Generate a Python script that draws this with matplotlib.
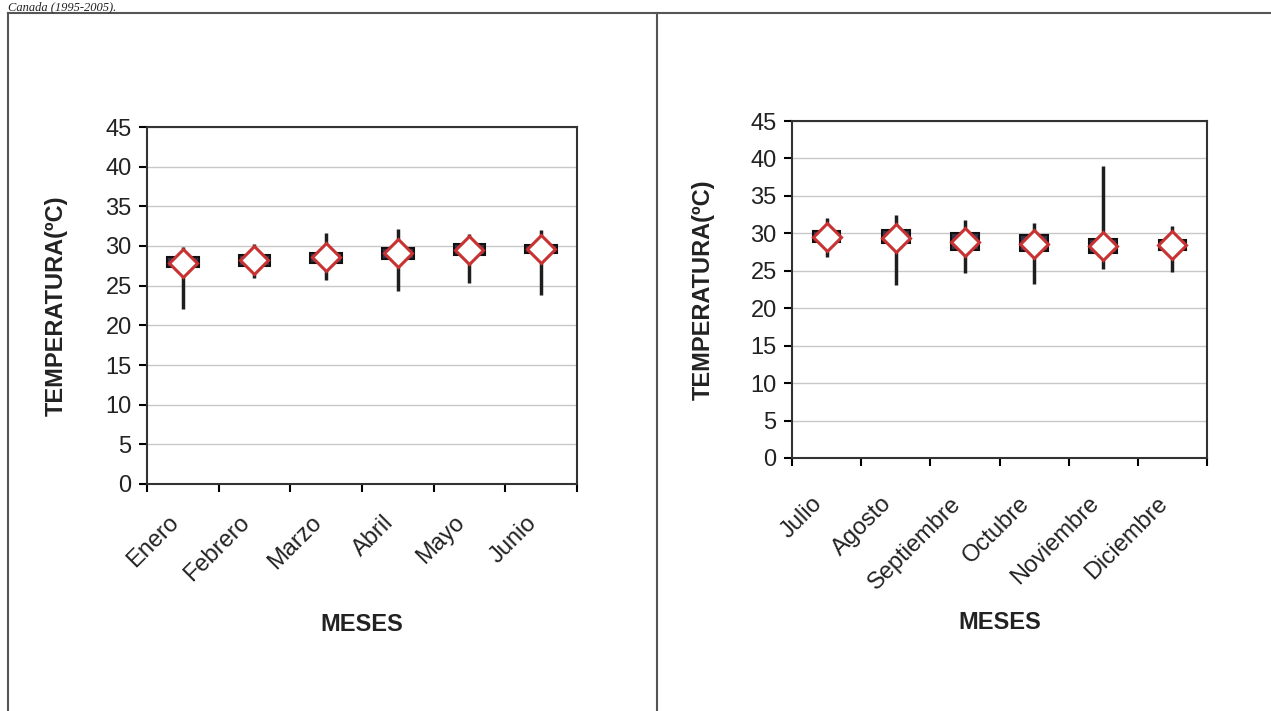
import matplotlib.pyplot as plt
from matplotlib.lines import Line2D
import numpy as np

plt.rcParams['font.family'] = ['Liberation Sans', 'DejaVu Sans']

# primer semestre
meses_1 = ['Enero', 'Febrero', 'Marzo', 'Abril', 'Mayo', 'Junio']
max_1 = [29.9, 30.3, 31.7, 32.1, 31.5, 32.0]
min_1 = [22.1, 26.0, 25.7, 24.3, 25.3, 23.8]
q3_1 = [28.6, 28.9, 29.1, 29.8, 30.3, 30.1]
q1_1 = [27.3, 27.5, 27.9, 28.4, 28.9, 29.1]
media_1 = [27.9, 28.2, 28.6, 29.1, 29.5, 29.6]

# segundo semestre
meses_2 = ['Julio', 'Agosto', 'Septiembre', 'Octubre', 'Noviembre', 'Diciembre']
max_2 = [32.0, 32.5, 31.8, 31.4, 39.0, 31.0]
min_2 = [26.8, 23.1, 24.7, 23.2, 25.3, 24.9]
q3_2 = [30.3, 30.5, 30.0, 29.8, 29.3, 29.1]
q1_2 = [28.9, 28.7, 27.8, 27.6, 27.4, 27.8]
media_2 = [29.5, 29.4, 28.9, 28.6, 28.3, 28.4]

yticks = list(range(0, 50, 5))

W, H = 1271, 711


def box_chart(ax, meses, vmax, vmin, q3, q1, media, box_w, label_pad):
    x = np.arange(len(meses))
    ax.set_xlim(-0.5, len(meses) - 0.5)
    ax.set_ylim(0, 45)
    ax.set_yticks(yticks)
    ax.yaxis.grid(True, color='#c8c8c8', lw=1)
    ax.set_axisbelow(True)

    ax.vlines(x, vmin, vmax, color='#1e1e1e', lw=2.5, zorder=2)
    h = np.array(q3) - np.array(q1)
    ax.bar(x, h, bottom=q1, width=box_w, color='#33334f',
           edgecolor='#111111', lw=1.5, zorder=3)
    ax.hlines(media, x - box_w * 0.38, x + box_w * 0.38, color='white', lw=1.2, zorder=4)
    ax.plot(x, media, 'D', ms=14, mfc='white', mec='#c83232', mew=2.2,
            ls='none', zorder=5)

    ax.set_xticks(np.arange(-0.5, len(meses)), minor=False)
    ax.set_xticklabels([])
    ax.set_xticks(x, minor=True)
    ax.set_xticklabels(meses, minor=True, rotation=45, ha='right', fontsize=17,
                       color='#222222')
    ax.tick_params(axis='x', which='minor', length=0, pad=label_pad)
    ax.tick_params(axis='x', which='major', direction='out', length=6, width=1.5)
    ax.tick_params(axis='y', direction='out', length=6, width=1.5, labelsize=17,
                   pad=5, labelcolor='#222222')
    for s in ax.spines.values():
        s.set_color('#333333')
        s.set_linewidth(1.5)
    ax.set_ylabel('TEMPERATURA(ºC)', fontsize=17, fontweight='bold', color='#222222')
    ax.set_xlabel('MESES', fontsize=17, fontweight='bold', color='#222222', va='top')


fig = plt.figure(figsize=(W / 100, H / 100), dpi=100)

ax1 = fig.add_axes([147 / W, 1 - 484 / H, 430 / W, 357 / H])
box_chart(ax1, meses_1, max_1, min_1, q3_1, q1_1, media_1, 0.44, 20)
ax1.xaxis.set_label_coords(0.5, -0.36)
ax1.yaxis.set_label_coords(-0.185, 0.5)

ax2 = fig.add_axes([792 / W, 1 - 458 / H, 415 / W, 337 / H])
box_chart(ax2, meses_2, max_2, min_2, q3_2, q1_2, media_2, 0.40, 25)
ax2.xaxis.set_label_coords(0.5, -0.455)
ax2.yaxis.set_label_coords(-0.186, 0.5)

# marco del documento
top = 1 - 13 / H
fig.add_artist(Line2D([8 / W, 1], [top, top], color='#555555', lw=1.5))
fig.add_artist(Line2D([8 / W, 8 / W], [0, top], color='#555555', lw=1.5))
fig.add_artist(Line2D([657 / W, 657 / W], [0, top], color='#555555', lw=1.5))

fig.text(8 / W, 1 - 1 / H, 'Canada (1995-2005).', family='Liberation Serif',
         style='italic', fontsize=9, va='top', ha='left', color='#222222')

fig.savefig('out.png', dpi=100)
